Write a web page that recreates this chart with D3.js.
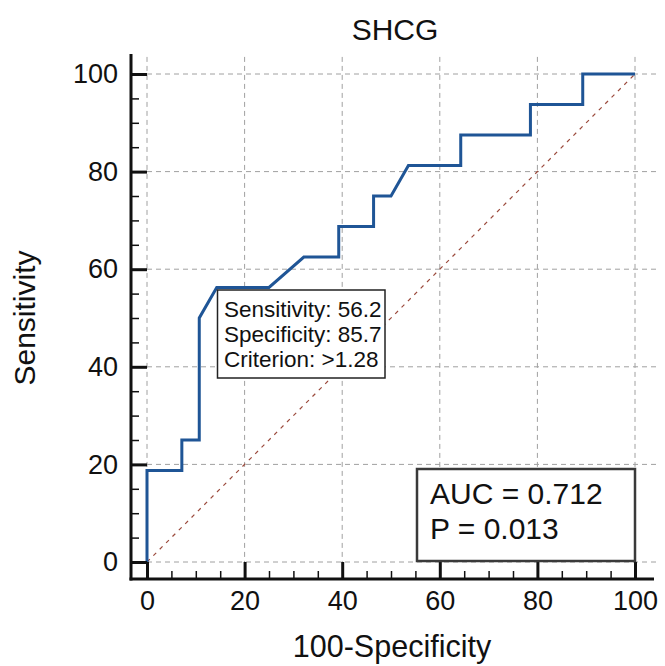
<!DOCTYPE html>
<html>
<head>
<meta charset="utf-8">
<script src="https://cdn.jsdelivr.net/npm/d3@7"></script>
<style>
  html, body { margin: 0; padding: 0; background: #fff; }
  svg { display: block; font-family: "Liberation Sans", Arial, sans-serif; }
</style>
</head>
<body>
<svg id="chart" width="665" height="666"></svg>
<script>
// ---- data ----
const title = "SHCG";
const xLabel = "100-Specificity";
const yLabel = "Sensitivity";
// ROC curve: 100-Specificity (x) and Sensitivity (y)
const fpr = [0, 0, 7.14, 7.14, 10.71, 10.71, 14.29, 25, 32.14, 39.29, 39.29, 46.43, 46.43, 50, 53.57, 64.29, 64.29, 78.57, 78.57, 89.29, 89.29, 100];
const tpr = [0, 18.75, 18.75, 25, 25, 50, 56.25, 56.25, 62.5, 62.5, 68.75, 68.75, 75, 75, 81.25, 81.25, 87.5, 87.5, 93.75, 93.75, 100, 100];
const refLine = [0, 100];
const majorTicks = [0, 20, 40, 60, 80, 100];
const minorTicks = [5, 10, 15, 25, 30, 35, 45, 50, 55, 65, 70, 75, 85, 90, 95];
const cutoffLines = ["Sensitivity: 56.2", "Specificity: 85.7", "Criterion: >1.28"];
const statLines = ["AUC = 0.712", "P = 0.013"];

// ---- layout ----
const svg = d3.select("#chart");
const x = d3.scaleLinear().domain([0, 100]).range([147, 635]);
const y = d3.scaleLinear().domain([0, 100]).range([562, 74]);
const axisX = 131, axisY = 579;

// grid
const grid = svg.append("g").attr("stroke", "#a0a0a0").attr("stroke-width", 1).attr("stroke-dasharray", "5,4");
majorTicks.forEach(v => {
  grid.append("line").attr("x1", x(v)).attr("x2", x(v)).attr("y1", y(103.5)).attr("y2", y(0));
  grid.append("line").attr("y1", y(v)).attr("y2", y(v)).attr("x1", x(0)).attr("x2", x(104.5));
});

// diagonal reference
svg.append("line")
  .attr("x1", x(refLine[0])).attr("y1", y(refLine[0]))
  .attr("x2", x(refLine[1])).attr("y2", y(refLine[1]))
  .attr("stroke", "#9b4a3c").attr("stroke-width", 1.2).attr("stroke-dasharray", "4,5");

// ROC curve
const pts = fpr.map((f, i) => [f, tpr[i]]);
svg.append("path")
  .datum(pts)
  .attr("fill", "none")
  .attr("stroke", "#1f5596")
  .attr("stroke-width", 3)
  .attr("stroke-linejoin", "miter")
  .attr("d", d3.line().x(d => x(d[0])).y(d => y(d[1])));

// axes
const fontTick = 27;
const yAxis = svg.append("g").attr("transform", `translate(${axisX},0)`)
  .call(d3.axisLeft(y).tickValues(majorTicks).tickSize(-(x(0) - axisX)).tickPadding(13).tickFormat(d3.format("d")));
const xAxis = svg.append("g").attr("transform", `translate(0,${axisY})`)
  .call(d3.axisBottom(x).tickValues(majorTicks).tickSize(-(axisY - y(0))).tickPadding(12).tickFormat(d3.format("d")));
const yMinor = svg.append("g").attr("transform", `translate(${axisX},0)`)
  .call(d3.axisLeft(y).tickValues(minorTicks).tickSize(-8).tickFormat(""));
const xMinor = svg.append("g").attr("transform", `translate(0,${axisY})`)
  .call(d3.axisBottom(x).tickValues(minorTicks).tickSize(-8).tickFormat(""));
[yAxis, xAxis, yMinor, xMinor].forEach(g => {
  g.select(".domain").remove();
  g.selectAll("text").attr("font-size", fontTick).attr("font-family", "Liberation Sans, Arial, sans-serif").attr("fill", "#111");
});
[yAxis, xAxis].forEach(g => g.selectAll(".tick line").attr("stroke", "#111").attr("stroke-width", 3));
[yMinor, xMinor].forEach(g => g.selectAll(".tick line").attr("stroke", "#111").attr("stroke-width", 1.5));

// axis lines
svg.append("line").attr("x1", axisX).attr("x2", axisX).attr("y1", 54).attr("y2", axisY + 1.5)
  .attr("stroke", "#111").attr("stroke-width", 3);
svg.append("line").attr("x1", axisX - 1.5).attr("x2", 654).attr("y1", axisY).attr("y2", axisY)
  .attr("stroke", "#111").attr("stroke-width", 3);

// titles
svg.append("text").attr("x", 395).attr("y", 40).attr("text-anchor", "middle")
  .attr("font-size", 30).attr("fill", "#111").text(title);
svg.append("text").attr("x", 392).attr("y", 657).attr("text-anchor", "middle")
  .attr("font-size", 30.5).attr("fill", "#111").text(xLabel);
svg.append("text").attr("transform", "translate(35,318) rotate(-90)").attr("text-anchor", "middle")
  .attr("font-size", 30).attr("fill", "#111").text(yLabel);

// cutoff annotation box
const ann = svg.append("g");
ann.append("rect").attr("x", 217.5).attr("y", 290).attr("width", 167.5).attr("height", 88)
  .attr("fill", "#fff").attr("stroke", "#222").attr("stroke-width", 1.5);
cutoffLines.forEach((t, i) => {
  ann.append("text").attr("x", 224).attr("y", 317 + i * 25).attr("font-size", 22.5)
    .attr("textLength", null).attr("fill", "#111").text(t);
});

// AUC box
const stat = svg.append("g");
stat.append("rect").attr("x", 417).attr("y", 469).attr("width", 218).attr("height", 92)
  .attr("fill", "#fff").attr("stroke", "#3a3a3a").attr("stroke-width", 2.5);
statLines.forEach((t, i) => {
  stat.append("text").attr("x", 430).attr("y", 503.5 + i * 35).attr("font-size", 30).attr("fill", "#111").text(t);
});
</script>
</body>
</html>
